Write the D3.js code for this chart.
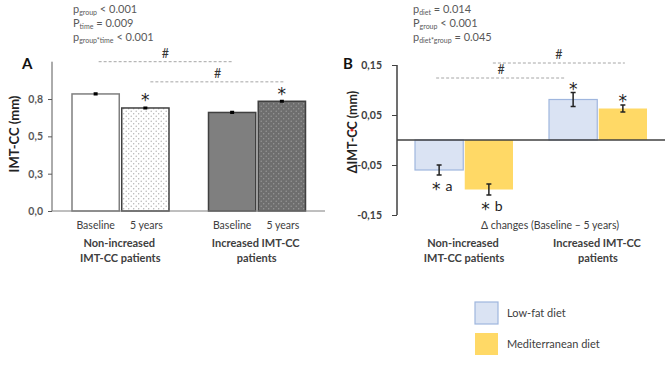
<!DOCTYPE html>
<html>
<head>
<meta charset="utf-8">
<script src="https://cdn.jsdelivr.net/npm/d3@7"></script>
<style>
  body { margin: 0; background: #fff; }
  svg { font-family: Lato, "Open Sans", sans-serif; }
</style>
</head>
<body>
<div id="vis"></div>
<script>
// ---- data ----
var groups = ["Non-increased|IMT-CC patients", "Increased IMT-CC|patients"];
var times = ["Baseline", "5 years"];
var imtBaseline = [0.784, 0.66];
var imt5years = [0.69, 0.735];
var imtErr = [0.004, 0.004];
var imtTicks = [0, 0.25, 0.5, 0.75];

var diets = ["Low-fat diet", "Mediterranean diet"];
var lowFatChange = [-0.06, 0.081];
var medChange = [-0.099, 0.063];
var lowFatErr = [0.01, 0.014];
var medErr = [0.011, 0.007];
var changeTicks = [-0.15, -0.05, 0.05, 0.15];

var pTextA = [["p", "group", " < 0.001"], ["P", "time", " = 0.009"], ["p", "group*time", " < 0.001"]];
var pTextB = [["p", "diet", " = 0.014"], ["P", "group", " < 0.001"], ["p", "diet*group", " = 0.045"]];
var starLabelsB = [["a", "b"], ["", ""]];

var W = 669, H = 365;
var textCol = "#404040";

var svg = d3.select("#vis").append("svg")
    .attr("width", W)
    .attr("height", H);

var defs = svg.append("defs");
function dotPattern(id, bg, dot) {
  var p = defs.append("pattern")
      .attr("id", id)
      .attr("patternUnits", "userSpaceOnUse")
      .attr("width", 5).attr("height", 5);
  p.append("rect").attr("width", 5).attr("height", 5).attr("fill", bg);
  p.append("circle").attr("cx", 1.2).attr("cy", 1.2).attr("r", 0.7).attr("fill", dot);
  p.append("circle").attr("cx", 3.7).attr("cy", 3.7).attr("r", 0.7).attr("fill", dot);
}
dotPattern("dotsWhite", "#ffffff", "#b0b0b0");
dotPattern("dotsGrey", "#6e6e6e", "#9a9a9a");

function pValues(x, lines) {
  lines.forEach(function(l, i) {
    var t = svg.append("text")
      .attr("x", x).attr("y", 13 + i * 14)
      .attr("font-size", 11).attr("fill", "#595959");
    t.append("tspan").text(l[0]);
    t.append("tspan").attr("font-size", 7).attr("dy", 2).text(l[1]);
    t.append("tspan").attr("dy", -2).text(l[2]);
  });
}

function groupLabels(x0, y) {
  groups.forEach(function(g) {
    g.split("|").forEach(function(line, j) {
      svg.append("text")
        .attr("x", x0(g) + x0.bandwidth() / 2 + (j == 0 ? -1 : 0))
        .attr("y", y + j * 15)
        .attr("text-anchor", "middle")
        .attr("font-size", 11).attr("font-weight", "bold")
        .attr("fill", textCol)
        .text(line);
    });
  });
}

function hashLine(x1, x2, y) {
  svg.append("line")
    .attr("x1", x1).attr("x2", x2).attr("y1", y).attr("y2", y)
    .attr("stroke", "#a6a6a6").attr("stroke-dasharray", "3,2");
  svg.append("text")
    .attr("x", (x1 + x2) / 2).attr("y", y - 4)
    .attr("text-anchor", "middle")
    .attr("font-size", 12.5).attr("fill", "#333")
    .text("#");
}

// asterisk, y = baseline; optional letter after it
function star(x, y, letter) {
  var t = svg.append("text")
    .attr("x", x).attr("y", y)
    .attr("text-anchor", "middle")
    .attr("fill", "#222");
  t.append("tspan")
    .attr("font-family", "DejaVu Sans, sans-serif")
    .attr("font-size", 17)
    .text("*");
  if (letter) {
    t.append("tspan")
      .attr("font-size", 14).attr("dx", 5).attr("dy", -4)
      .text(letter);
  }
}

// ================= Panel A =================
var yA = d3.scaleLinear().domain([0, 1]).range([211, 61.7]);
var x0A = d3.scaleBand().domain(groups).range([52, 325]);
var x1A = d3.scaleBand().domain(times).range([20, 117]).paddingInner(0.05);

pValues(73, pTextA);

svg.append("text").attr("x", 22).attr("y", 69)
  .attr("font-size", 15).attr("font-weight", "bold").attr("fill", "#111").text("A");

var axA = svg.append("g").attr("transform", "translate(52,0)")
  .call(d3.axisLeft(yA).tickValues(imtTicks).tickSize(4).tickPadding(5)
    .tickFormat(function(d) { return d3.format(".1f")(d).replace(".", ","); }));
axA.select(".domain").attr("d", "M0," + yA(1) + "V" + yA(0)).attr("stroke", "#595959");
axA.selectAll(".tick line").attr("stroke", "#595959");
axA.selectAll(".tick text").attr("font-size", 10.5).attr("font-weight", "bold")
  .attr("fill", "#595959").attr("font-family", "Lato, sans-serif");

svg.append("text")
  .attr("transform", "translate(19,134) rotate(-90)")
  .attr("text-anchor", "middle")
  .attr("font-size", 13).attr("font-weight", "bold").attr("fill", "#222")
  .text("IMT-CC (mm)");

var barsA = [];
groups.forEach(function(g, gi) {
  barsA.push({g: g, t: times[0], v: imtBaseline[gi], e: imtErr[gi], gi: gi, ti: 0});
  barsA.push({g: g, t: times[1], v: imt5years[gi], e: imtErr[gi], gi: gi, ti: 1});
});
var fillsA = [["#ffffff", "url(#dotsWhite)"], ["#7f7f7f", "url(#dotsGrey)"]];
var strokesA = [["#7f7f7f", "#404040"], ["#404040", "#404040"]];

svg.selectAll("rect.barA").data(barsA).enter().append("rect")
  .attr("class", "barA")
  .attr("x", function(d) { return x0A(d.g) + x1A(d.t); })
  .attr("y", function(d) { return yA(d.v); })
  .attr("width", x1A.bandwidth())
  .attr("height", function(d) { return yA(0) - yA(d.v); })
  .attr("fill", function(d) { return fillsA[d.gi][d.ti]; })
  .attr("stroke", function(d) { return strokesA[d.gi][d.ti]; })
  .attr("stroke-width", 1.5);

barsA.forEach(function(d) {
  var cx = x0A(d.g) + x1A(d.t) + x1A.bandwidth() / 2;
  svg.append("path")
    .attr("d", "M" + (cx - 2) + "," + yA(d.v + d.e) + "H" + (cx + 2) +
      "M" + cx + "," + yA(d.v + d.e) + "V" + yA(d.v - d.e) +
      "M" + (cx - 2) + "," + yA(d.v - d.e) + "H" + (cx + 2))
    .attr("stroke", "#000").attr("stroke-width", 2);
  if (d.ti == 1) star(cx, yA(d.v + d.e) - 1, "");
});

// baseline axis
svg.append("line").attr("x1", 52).attr("x2", 325).attr("y1", yA(0)).attr("y2", yA(0))
  .attr("stroke", "#7f7f7f").attr("stroke-width", 1);

function barCenterA(gi, ti) { return x0A(groups[gi]) + x1A(times[ti]) + x1A.bandwidth() / 2; }
hashLine(barCenterA(0, 0) + 3, barCenterA(1, 0), yA(1.0));
hashLine(barCenterA(0, 1) + 5, barCenterA(1, 1) + 3, yA(0.865));

groups.forEach(function(g) {
  times.forEach(function(t) {
    svg.append("text")
      .attr("x", x0A(g) + x1A(t) + x1A.bandwidth() / 2 + (t == times[0] ? 0 : 1))
      .attr("y", 229)
      .attr("text-anchor", "middle")
      .attr("font-size", 10.5).attr("fill", textCol)
      .text(t);
  });
});
groupLabels(x0A, 247);

// ================= Panel B =================
var yB = d3.scaleLinear().domain([-0.15, 0.15]).range([215, 65]);
var x0B = d3.scaleBand().domain(groups).range([397, 665]);
var x1B = d3.scaleBand().domain(diets).range([18, 116]).paddingInner(0.03);
var dietFill = ["#dae3f3", "#ffd966"];
var dietStroke = ["#9fb6de", "none"];

pValues(413, pTextB);

svg.append("text").attr("x", 343).attr("y", 69)
  .attr("font-size", 15).attr("font-weight", "bold").attr("fill", "#111").text("B");

var axB = svg.append("g").attr("transform", "translate(397,0)")
  .call(d3.axisLeft(yB).tickValues(changeTicks).tickSize(5).tickPadding(10)
    .tickFormat(function(d) { return d3.format(".2f")(d).replace(".", ",").replace("−", "-"); }));
axB.select(".domain").attr("d", "M0," + yB(0.15) + "V" + yB(-0.15)).attr("stroke", "#404040").attr("stroke-width", 1.5);
axB.selectAll(".tick line").attr("stroke", "#404040");
axB.selectAll(".tick text").attr("font-size", 10.5).attr("font-weight", "bold")
  .attr("fill", "#404040").attr("font-family", "Lato, sans-serif");

svg.append("text")
  .attr("transform", "translate(357,132) rotate(-90)")
  .attr("text-anchor", "middle")
  .attr("font-size", 12.5).attr("font-weight", "bold").attr("fill", "#222")
  .text("ΔIMT-CC (mm)");
svg.append("circle").attr("cx", 352).attr("cy", 130).attr("r", 1.6).attr("fill", "#e02020");

var barsB = [];
groups.forEach(function(g, gi) {
  barsB.push({g: g, d: diets[0], v: lowFatChange[gi], e: lowFatErr[gi], di: 0, gi: gi});
  barsB.push({g: g, d: diets[1], v: medChange[gi], e: medErr[gi], di: 1, gi: gi});
});

svg.selectAll("rect.barB").data(barsB).enter().append("rect")
  .attr("class", "barB")
  .attr("x", function(d) { return x0B(d.g) + x1B(d.d); })
  .attr("y", function(d) { return yB(Math.max(0, d.v)); })
  .attr("width", x1B.bandwidth())
  .attr("height", function(d) { return Math.abs(yB(d.v) - yB(0)); })
  .attr("fill", function(d) { return dietFill[d.di]; })
  .attr("stroke", function(d) { return dietStroke[d.di]; })
  .attr("stroke-width", 1.2);

barsB.forEach(function(d) {
  var cx = x0B(d.g) + x1B(d.d) + x1B.bandwidth() / 2;
  svg.append("path")
    .attr("d", "M" + (cx - 2.5) + "," + yB(d.v + d.e) + "H" + (cx + 2.5) +
      "M" + cx + "," + yB(d.v + d.e) + "V" + yB(d.v - d.e) +
      "M" + (cx - 2.5) + "," + yB(d.v - d.e) + "H" + (cx + 2.5))
    .attr("stroke", "#222").attr("stroke-width", 1.5);
  var lab = starLabelsB[d.gi][d.di];
  if (d.v < 0) star(cx + 3, yB(d.v - d.e) + 20, lab);
  else star(cx, yB(d.v + d.e) + 2, lab);
});

svg.append("line").attr("x1", 397).attr("x2", 665).attr("y1", yB(0)).attr("y2", yB(0))
  .attr("stroke", "#404040").attr("stroke-width", 1.5);

function barCenterB(gi, di) { return x0B(groups[gi]) + x1B(diets[di]) + x1B.bandwidth() / 2; }
hashLine(barCenterB(0, 1) + 4, barCenterB(1, 1) + 2, yB(0.154));
hashLine(barCenterB(0, 0) - 3, barCenterB(1, 0) - 7, yB(0.124));

svg.append("text")
  .attr("x", 550).attr("y", 229)
  .attr("text-anchor", "middle")
  .attr("font-size", 10.5).attr("fill", textCol)
  .text("Δ changes (Baseline – 5 years)");
groupLabels(x0B, 247);

// legend
var legend = svg.append("g").attr("transform", "translate(475,302)");
diets.forEach(function(d, i) {
  legend.append("rect")
    .attr("x", 0).attr("y", i * 31)
    .attr("width", 23).attr("height", 22)
    .attr("fill", dietFill[i])
    .attr("stroke", dietStroke[i]).attr("stroke-width", 1.2);
  legend.append("text")
    .attr("x", 32).attr("y", i * 31 + 15)
    .attr("font-size", 11).attr("fill", textCol)
    .text(d);
});
</script>
</body>
</html>
